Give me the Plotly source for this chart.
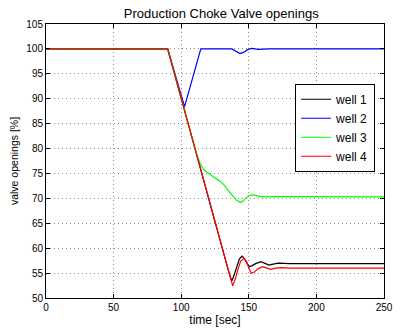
import plotly.graph_objects as go

# Simulated choke valve openings for four wells
t_well1 = [0, 90, 135, 137.4, 139, 141, 143, 145, 147, 149, 150.6, 152.5, 155, 159, 162, 165, 168, 172, 180, 250]
v_well1 = [100, 100, 55.4, 53.4, 54.5, 56.3, 57.8, 58.4, 57.8, 56.8, 56.3, 56.5, 56.9, 57.3, 57.0, 56.6, 56.8, 57.0, 56.9, 56.9]

t_well2 = [0, 90, 102.5, 114.5, 137.5, 140, 143.4, 146, 149.5, 152, 157, 165, 250]
v_well2 = [100, 100, 88.4, 100, 100, 99.6, 99.05, 99.3, 99.9, 100.1, 99.9, 100.0, 100]

t_well3 = [0, 90, 111, 112.5, 114, 117, 121.7, 125.3, 129, 132, 135, 138, 141, 143.9, 146, 148, 150, 153, 156, 160, 170, 250]
v_well3 = [100, 100, 79.2, 77.9, 77.0, 75.7, 74.7, 74.05, 73.4, 72.6, 71.5, 70.5, 69.6, 69.15, 69.5, 70.1, 70.5, 70.7, 70.5, 70.3, 70.35, 70.3]

t_well4 = [0, 90, 138.1, 140, 142, 144, 146.5, 148.5, 150, 151.8, 154, 157, 160, 163, 166.2, 170, 174, 180, 250]
v_well4 = [100, 100, 52.45, 53.8, 55.8, 57.4, 57.95, 57.2, 56.0, 54.95, 55.2, 55.9, 56.3, 56.0, 55.75, 56.0, 56.1, 56.0, 56.0]

series = [
    ("well 1", t_well1, v_well1, "#000000"),
    ("well 2", t_well2, v_well2, "#0000ff"),
    ("well 3", t_well3, v_well3, "#00ff00"),
    ("well 4", t_well4, v_well4, "#ff0000"),
]

x_ticks = [0, 50, 100, 150, 200, 250]
y_ticks = [50, 55, 60, 65, 70, 75, 80, 85, 90, 95, 100, 105]

fig = go.Figure()
for name, t, v, color in series:
    fig.add_trace(go.Scatter(x=t, y=v, mode="lines", name=name,
                             line=dict(color=color, width=1.2)))

axis_common = dict(
    showline=True, linecolor="black", linewidth=1, mirror="allticks",
    ticks="inside", ticklen=4, tickcolor="black", tickwidth=1,
    showgrid=True, gridcolor="#8c8c8c", griddash="1px,3px", gridwidth=1,
    zeroline=False, tickfont=dict(size=10, color="black"),
    ticklabeloverflow="allow",
)

fig.update_layout(
    width=400, height=331,
    margin=dict(l=46, r=7, t=24, b=33),
    paper_bgcolor="white", plot_bgcolor="white",
    font=dict(family="Liberation Sans, Arial, sans-serif", color="black"),
    title=dict(text="Production Choke Valve openings", font=dict(size=13),
               x=0.553, xanchor="center", y=1 - 13 / 331, yanchor="middle"),
    xaxis=dict(range=[0, 250], tickvals=x_ticks,
               title=dict(text="time [sec]", font=dict(size=12), standoff=2),
               **axis_common),
    yaxis=dict(range=[50, 105], tickvals=y_ticks,
               title=dict(text="valve openings [%]", font=dict(size=10.5), standoff=5),
               **axis_common),
    legend=dict(x=0.737, y=0.782, xanchor="left", yanchor="top",
                bgcolor="white", bordercolor="black", borderwidth=1,
                font=dict(size=12), tracegroupgap=0, itemwidth=30),
    showlegend=True,
)

fig.write_html("out.html")
